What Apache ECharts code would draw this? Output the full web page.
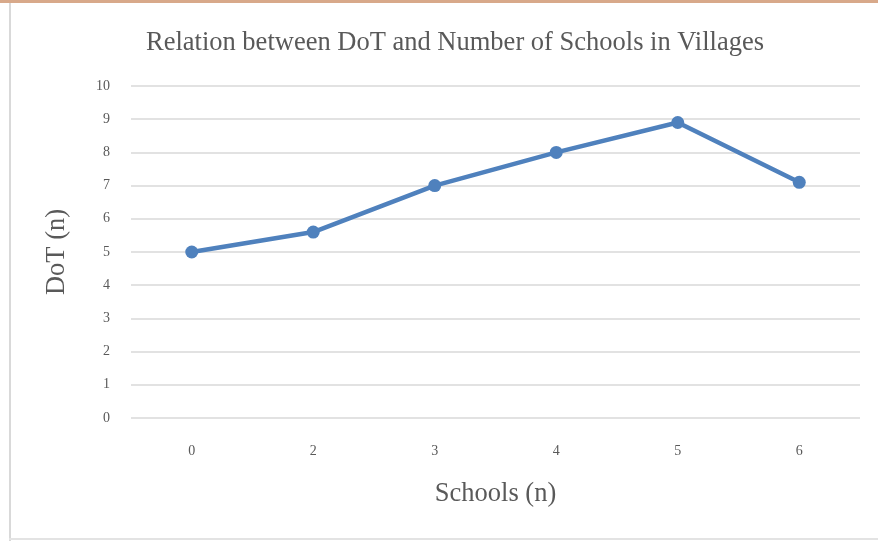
<!DOCTYPE html>
<html>
<head>
<meta charset="utf-8">
<script src="https://cdn.jsdelivr.net/npm/echarts@6/dist/echarts.min.js"></script>
<style>
  html, body { margin: 0; padding: 0; background: #fff; }
  #main { width: 878px; height: 541px; }
</style>
</head>
<body>
<div id="main"></div>
<script>
// 数据
var schools = ["0", "2", "3", "4", "5", "6"];
var dotValues = [5.0, 5.6, 7.0, 8.0, 8.9, 7.1];
var titleText = "Relation between DoT and Number of Schools in Villages";

var chart = echarts.init(document.getElementById("main"));
var serif = "'Liberation Serif', 'Times New Roman', serif";
var textColor = "#595959";

chart.setOption({
  backgroundColor: "#fff",
  animation: false,
  title: {
    text: titleText,
    left: 450,
    top: 25,
    textAlign: "center",
    textStyle: { fontFamily: serif, fontSize: 26.5, fontWeight: "normal", color: textColor }
  },
  grid: { left: 131, right: 18, top: 86, bottom: 123 },
  xAxis: {
    type: "category",
    data: schools,
    boundaryGap: true,
    name: "Schools (n)",
    nameLocation: "middle",
    nameGap: 63,
    nameTextStyle: { fontFamily: serif, fontSize: 26.5, color: textColor },
    axisLine: { show: false },
    axisTick: { show: false },
    axisLabel: { fontFamily: serif, fontSize: 14, color: textColor, margin: 26 }
  },
  yAxis: {
    type: "value",
    min: 0,
    max: 10,
    interval: 1,
    name: "DoT (n)",
    nameLocation: "middle",
    nameGap: 60,
    nameRotate: 90,
    nameTextStyle: { fontFamily: serif, fontSize: 26.5, color: textColor },
    axisLine: { show: false },
    axisTick: { show: false },
    axisLabel: { fontFamily: serif, fontSize: 14, color: textColor, margin: 21 },
    splitLine: { lineStyle: { color: "#d9d9d9", width: 1.5 } }
  },
  series: [{
    type: "line",
    data: dotValues,
    symbol: "circle",
    symbolSize: 13,
    lineStyle: { color: "#4f81bd", width: 4.5 },
    itemStyle: { color: "#4f81bd" }
  }],
  // 外框
  graphic: [
    { type: "rect", shape: { x: 0, y: 0, width: 878, height: 3 }, style: { fill: "#d8a98a" } },
    { type: "rect", shape: { x: 9, y: 3, width: 2, height: 538 }, style: { fill: "#d9d9d9" } },
    { type: "rect", shape: { x: 9, y: 538, width: 869, height: 2 }, style: { fill: "#e3e3e3" } }
  ]
});
</script>
</body>
</html>
